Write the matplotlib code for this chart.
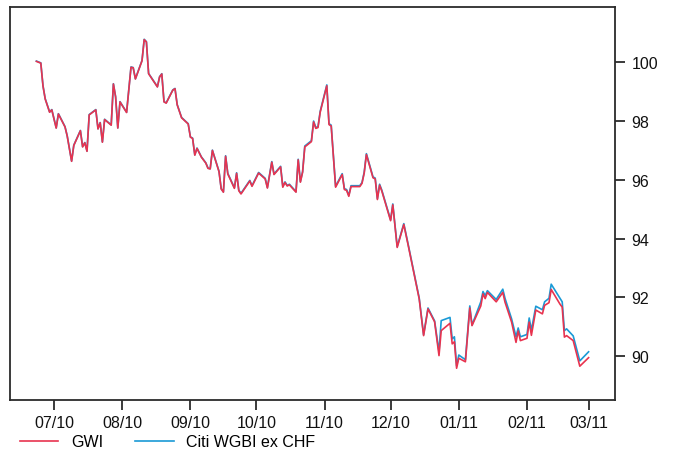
import matplotlib
matplotlib.use("Agg")
import matplotlib.pyplot as plt
import matplotlib.dates as mdates
import pandas as pd

plt.rcParams['font.family'] = ['Liberation Sans', 'DejaVu Sans']

dates = ["2010-06-23","2010-06-25","2010-06-26","2010-06-27","2010-06-29","2010-06-30",
         "2010-07-02","2010-07-03","2010-07-06","2010-07-07","2010-07-09","2010-07-10",
         "2010-07-13","2010-07-14","2010-07-15","2010-07-16","2010-07-17","2010-07-20",
         "2010-07-21","2010-07-22","2010-07-23","2010-07-24","2010-07-27","2010-07-28",
         "2010-07-29","2010-07-30","2010-07-31","2010-08-03","2010-08-05","2010-08-06",
         "2010-08-07","2010-08-10","2010-08-11","2010-08-12","2010-08-13","2010-08-17",
         "2010-08-18","2010-08-19","2010-08-20","2010-08-21","2010-08-24","2010-08-25",
         "2010-08-26","2010-08-28","2010-08-31","2010-09-01","2010-09-02","2010-09-03",
         "2010-09-04","2010-09-06","2010-09-08","2010-09-09","2010-09-10","2010-09-11",
         "2010-09-14","2010-09-15","2010-09-16","2010-09-17","2010-09-18","2010-09-21",
         "2010-09-22","2010-09-23","2010-09-24","2010-09-28","2010-09-29","2010-10-02",
         "2010-10-05","2010-10-06","2010-10-08","2010-10-09","2010-10-12","2010-10-13",
         "2010-10-14","2010-10-15","2010-10-16","2010-10-19","2010-10-20","2010-10-21",
         "2010-10-22","2010-10-23","2010-10-26","2010-10-27","2010-10-28","2010-10-29",
         "2010-10-30","2010-11-02","2010-11-03","2010-11-04","2010-11-06","2010-11-09",
         "2010-11-10","2010-11-11","2010-11-12","2010-11-13","2010-11-17","2010-11-18",
         "2010-11-19","2010-11-20","2010-11-23","2010-11-24","2010-11-25","2010-11-26",
         "2010-11-27","2010-12-01","2010-12-02","2010-12-04","2010-12-07","2010-12-09",
         "2010-12-14","2010-12-16","2010-12-18","2010-12-21","2010-12-23","2010-12-24",
         "2010-12-28","2010-12-29","2010-12-30","2010-12-31","2011-01-01","2011-01-04",
         "2011-01-06","2011-01-07","2011-01-11","2011-01-12","2011-01-13","2011-01-14",
         "2011-01-18","2011-01-21","2011-01-22","2011-01-25","2011-01-27","2011-01-28",
         "2011-01-29","2011-02-01","2011-02-02","2011-02-03","2011-02-05","2011-02-08",
         "2011-02-09","2011-02-11","2011-02-12","2011-02-16","2011-02-17","2011-02-18",
         "2011-02-19","2011-02-22","2011-02-25","2011-03-01"]

gwi = [100.03, 99.97, 99.19, 98.75, 98.30, 98.38,
       97.76, 98.24, 97.80, 97.49, 96.63, 97.17,
       97.67, 97.12, 97.26, 96.97, 98.21, 98.38,
       97.73, 97.94, 97.28, 98.05, 97.86, 99.26,
       98.82, 97.76, 98.65, 98.29, 99.83, 99.81,
       99.43, 100.05, 100.77, 100.69, 99.61, 99.16,
       99.50, 99.60, 98.65, 98.61, 99.05, 99.10,
       98.55, 98.11, 97.90, 97.45, 97.41, 96.84,
       97.07, 96.77, 96.57, 96.39, 96.37, 97.00,
       96.28, 95.69, 95.58, 96.80, 96.20, 95.71,
       96.22, 95.63, 95.52, 95.96, 95.78, 96.23,
       96.03, 95.72, 96.60, 96.18, 96.44, 95.75,
       95.91, 95.79, 95.83, 95.58, 96.68, 95.92,
       96.26, 97.12, 97.30, 97.97, 97.75, 97.78,
       98.30, 99.20, 97.88, 97.83, 95.75, 96.18,
       95.67, 95.64, 95.44, 95.77, 95.77, 95.88,
       96.23, 96.86, 96.07, 96.03, 95.33, 95.82,
       95.62, 94.61, 95.15, 93.70, 94.48, 93.77,
       91.95, 90.70, 91.61, 91.17, 90.02, 90.87,
       91.12, 90.42, 90.49, 89.59, 89.93, 89.81,
       91.64, 91.04, 91.71, 92.12, 91.96, 92.17,
       91.85, 92.17, 91.84, 91.16, 90.47, 90.86,
       90.53, 90.61, 91.16, 90.71, 91.57, 91.44,
       91.73, 91.82, 92.27, 91.77, 91.67, 90.65,
       90.70, 90.53, 89.66, 89.95]

citi = [100.04, 99.98, 99.20, 98.76, 98.31, 98.39,
        97.77, 98.25, 97.81, 97.50, 96.64, 97.18,
        97.68, 97.13, 97.27, 96.98, 98.22, 98.39,
        97.74, 97.95, 97.29, 98.06, 97.87, 99.27,
        98.83, 97.77, 98.66, 98.30, 99.84, 99.82,
        99.44, 100.06, 100.78, 100.70, 99.62, 99.17,
        99.51, 99.61, 98.66, 98.62, 99.06, 99.11,
        98.56, 98.12, 97.91, 97.46, 97.42, 96.85,
        97.08, 96.78, 96.58, 96.40, 96.38, 97.01,
        96.29, 95.70, 95.59, 96.82, 96.22, 95.73,
        96.24, 95.65, 95.54, 95.98, 95.80, 96.25,
        96.05, 95.74, 96.62, 96.20, 96.46, 95.77,
        95.93, 95.81, 95.85, 95.60, 96.70, 95.94,
        96.28, 97.15, 97.33, 98.00, 97.78, 97.81,
        98.33, 99.23, 97.91, 97.86, 95.78, 96.21,
        95.70, 95.67, 95.47, 95.80, 95.80, 95.91,
        96.26, 96.89, 96.10, 96.06, 95.36, 95.85,
        95.65, 94.64, 95.18, 93.73, 94.51, 93.80,
        91.98, 90.73, 91.64, 91.20, 90.15, 91.21,
        91.32, 90.59, 90.66, 89.67, 90.04, 89.88,
        91.71, 91.06, 91.85, 92.20, 92.06, 92.23,
        91.93, 92.28, 91.97, 91.27, 90.66, 90.96,
        90.66, 90.74, 91.30, 90.88, 91.70, 91.58,
        91.85, 91.97, 92.45, 91.97, 91.85, 90.87,
        90.93, 90.69, 89.84, 90.15]

series_labels = ["GWI", "Citi WGBI ex CHF"]
yticks = [90, 92, 94, 96, 98, 100]

RED = "#e8334f"
BLUE = "#1a9ad6"

x = pd.to_datetime(dates)

fig = plt.figure(figsize=(6.73, 4.52), dpi=100)
ax = fig.add_axes([10/673, 1 - 400.7/452, (615 - 10)/673, (400.7 - 8)/452])

l_citi, = ax.plot(x, citi, color=BLUE, lw=1.2, label=series_labels[1])
l_gwi, = ax.plot(x, gwi, color=RED, lw=1.2, label=series_labels[0])

ax.set_xlim(pd.Timestamp("2010-06-11"), pd.Timestamp("2011-03-13"))
ax.set_ylim(88.52, 101.88)

ax.xaxis.set_major_locator(mdates.MonthLocator())
ax.xaxis.set_major_formatter(mdates.DateFormatter("%m/%y"))
ax.yaxis.tick_right()
ax.set_yticks(yticks)

for s in ax.spines.values():
    s.set_color("#2b2b2b")
    s.set_linewidth(1.3)
ax.tick_params(axis='both', direction='out', length=7, width=1.3, color="#2b2b2b",
               labelsize=11.5, labelcolor="#111111")
ax.tick_params(axis='x', pad=4)
ax.tick_params(axis='y', pad=5)

fig.legend(handles=[l_gwi, l_citi], labels=series_labels, loc='center left',
           bbox_to_anchor=(20/673, 1 - 443/452), ncol=2, frameon=False,
           fontsize=11.5, handlelength=2.4, handletextpad=0.8, columnspacing=2.0,
           borderpad=0, borderaxespad=0)

fig.savefig("out.png", dpi=100)
